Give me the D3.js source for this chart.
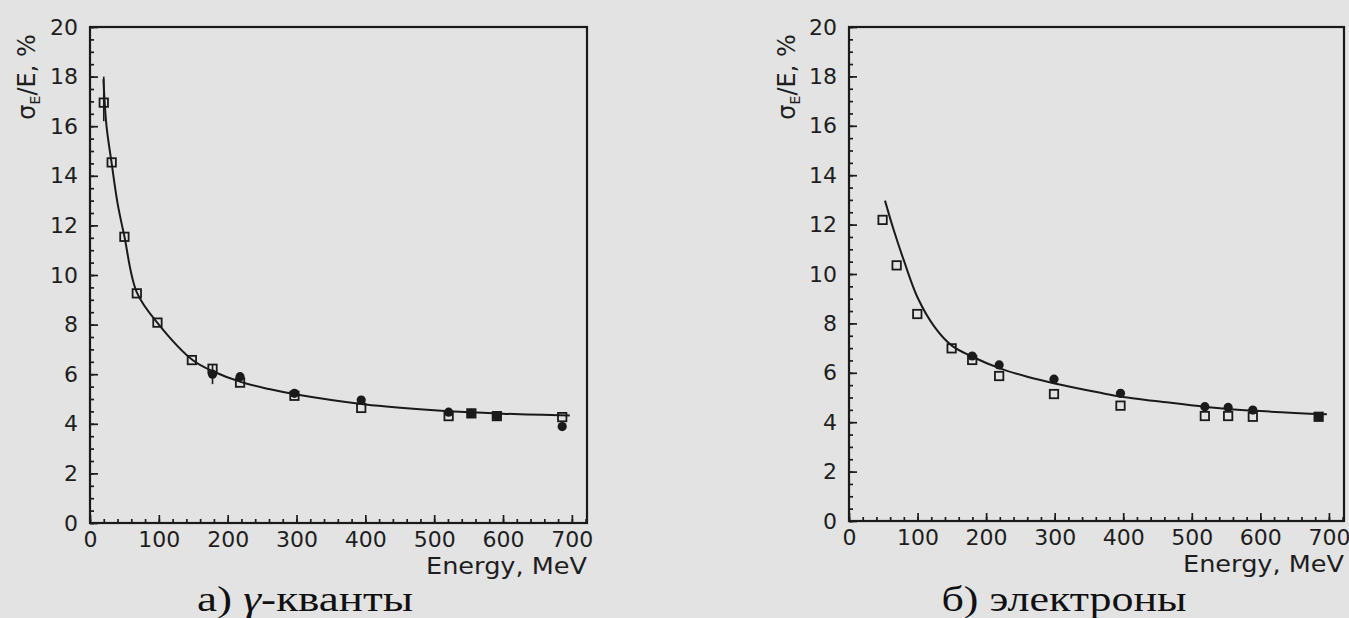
<!DOCTYPE html>
<html>
<head>
<meta charset="utf-8">
<script src="https://cdn.jsdelivr.net/npm/d3@7"></script>
<style>
    body { margin: 0; background: #e3e3e3; }
    svg { display: block; }
    .tick text { font-family: "DejaVu Sans", sans-serif; font-size: 22px; fill: #1e1e1e; }
    .tick line { stroke: #1c1c1c; stroke-width: 1.7; }
</style>
</head>
<body>
<script>
// tick labels
const xTicks = [0, 100, 200, 300, 400, 500, 600, 700];
const yTicks = [0, 2, 4, 6, 8, 10, 12, 14, 16, 18, 20];

// а) gamma quanta: open squares, filled circles, fitted curve
const gammaSqE = [20, 31.5, 50, 68, 98, 148, 178, 218, 297, 394, 521, 554, 591, 686];
const gammaSqV = [16.95, 14.54, 11.54, 9.26, 8.08, 6.57, 6.22, 5.66, 5.13, 4.64, 4.31, 4.42, 4.31, 4.27];
const gammaDotE = [178, 218, 297, 394, 521, 554, 591, 686];
const gammaDotV = [6.0, 5.9, 5.23, 4.96, 4.47, 4.42, 4.31, 3.89];
const gammaFitE = [19.5, 24, 31.5, 40, 50, 68, 100, 150, 180, 220, 260, 300, 400, 500, 600, 697];
const gammaFitV = [17.9, 16.0, 14.5, 12.9, 11.55, 9.3, 8.0, 6.55, 6.1, 5.68, 5.4, 5.18, 4.78, 4.55, 4.41, 4.33];

// б) electrons
const elSqE = [49, 69.5, 99.6, 149.7, 179.7, 219, 299, 396, 519, 553, 589, 685];
const elSqV = [12.19, 10.35, 8.38, 6.99, 6.52, 5.87, 5.14, 4.67, 4.25, 4.25, 4.22, 4.22];
const elDotE = [179.7, 219, 299, 396, 519, 553, 589, 685];
const elDotV = [6.68, 6.32, 5.74, 5.17, 4.63, 4.60, 4.49, 4.22];
const elFitE = [52.5, 65, 80, 100, 125, 150, 180, 220, 260, 300, 365, 400, 450, 520, 600, 697];
const elFitV = [12.97, 11.8, 10.55, 9.05, 7.85, 7.1, 6.65, 6.18, 5.84, 5.57, 5.2, 5.02, 4.85, 4.62, 4.45, 4.32];

const ink = "#1a1a1a";
const w = 1349, h = 618;

const svg = d3.select("body").append("svg")
    .attr("width", w)
    .attr("height", h);

function zip(a, b) { return a.map((d, i) => [d, b[i]]); }

function drawPanel(cfg) {
    const x = d3.scaleLinear().domain([0, 722]).range([cfg.left, cfg.right]);
    const y = d3.scaleLinear().domain([0, 20]).range([cfg.bottom, cfg.top]);
    const g = svg.append("g");

    // minor ticks
    g.append("g")
        .attr("transform", "translate(0," + cfg.bottom + ")")
        .call(d3.axisBottom(x).tickValues(d3.range(0, 721, 20)).tickSize(-4).tickFormat(""))
        .call(s => s.select(".domain").remove());
    g.append("g")
        .attr("transform", "translate(" + cfg.left + ",0)")
        .call(d3.axisLeft(y).tickValues(d3.range(0, 20.01, 0.5)).tickSize(-4).tickFormat(""))
        .call(s => s.select(".domain").remove());

    // major ticks with labels
    g.append("g")
        .attr("transform", "translate(0," + cfg.bottom + ")")
        .call(d3.axisBottom(x).tickValues(xTicks).tickSizeInner(-8).tickSizeOuter(0).tickPadding(8))
        .call(s => s.select(".domain").remove());
    g.append("g")
        .attr("transform", "translate(" + cfg.left + ",0)")
        .call(d3.axisLeft(y).tickValues(yTicks).tickSizeInner(-8).tickSizeOuter(0).tickPadding(12))
        .call(s => s.select(".domain").remove());

    // frame
    g.append("rect")
        .attr("x", cfg.left).attr("y", cfg.top)
        .attr("width", cfg.right - cfg.left)
        .attr("height", cfg.bottom - cfg.top)
        .attr("fill", "none")
        .attr("stroke", ink)
        .attr("stroke-width", 2.2);

    // fitted curve
    const line = d3.line()
        .x(d => x(d[0]))
        .y(d => y(d[1]))
        .curve(d3.curveCatmullRom.alpha(0.5));
    g.append("path")
        .datum(zip(cfg.fitE, cfg.fitV))
        .attr("d", line)
        .attr("fill", "none")
        .attr("stroke", ink)
        .attr("stroke-width", 2);

    // error bars
    g.selectAll(".err")
        .data(cfg.errors)
        .enter()
        .append("line")
        .attr("x1", d => x(d[0])).attr("x2", d => x(d[0]))
        .attr("y1", d => y(d[1])).attr("y2", d => y(d[2]))
        .attr("stroke", ink)
        .attr("stroke-width", 1.6);

    // filled circles
    g.selectAll(".dot")
        .data(zip(cfg.dotE, cfg.dotV))
        .enter()
        .append("circle")
        .attr("cx", d => x(d[0]))
        .attr("cy", d => y(d[1]))
        .attr("r", 4.6)
        .attr("fill", ink);

    // open squares
    g.selectAll(".sq")
        .data(zip(cfg.sqE, cfg.sqV))
        .enter()
        .append("rect")
        .attr("x", d => x(d[0]) - 4.2)
        .attr("y", d => y(d[1]) - 4.2)
        .attr("width", 8.4)
        .attr("height", 8.4)
        .attr("fill", "none")
        .attr("stroke", ink)
        .attr("stroke-width", 1.8);

    // axis titles
    g.append("text")
        .attr("x", cfg.right)
        .attr("y", cfg.bottom + 51)
        .attr("text-anchor", "end")
        .attr("textLength", 161)
        .attr("lengthAdjust", "spacingAndGlyphs")
        .attr("font-family", "DejaVu Sans, sans-serif")
        .attr("font-size", 23)
        .attr("fill", "#1e1e1e")
        .text("Energy, MeV");

    const yl = g.append("text")
        .attr("transform", "translate(" + cfg.ylabX + ",77) rotate(-90)")
        .attr("text-anchor", "middle")
        .attr("font-family", "DejaVu Sans, sans-serif")
        .attr("font-size", 24)
        .attr("fill", "#1e1e1e");
    yl.append("tspan").text("σ");
    yl.append("tspan").attr("font-size", 14).attr("dy", 5).text("E");
    yl.append("tspan").attr("dy", -5).text("/E, %");

    // caption
    const cap = svg.append("text")
        .attr("x", cfg.capX)
        .attr("y", 611)
        .attr("text-anchor", "middle")
        .attr("textLength", cfg.capW)
        .attr("lengthAdjust", "spacingAndGlyphs")
        .attr("font-family", "Liberation Serif, serif")
        .attr("font-size", 36)
        .attr("fill", "#111");
    cfg.caption.forEach(part => {
        cap.append("tspan")
            .attr("font-style", part[1] ? "italic" : "normal")
            .text(part[0]);
    });
}

drawPanel({
    left: 90, right: 587, top: 27, bottom: 523,
    sqE: gammaSqE, sqV: gammaSqV, dotE: gammaDotE, dotV: gammaDotV,
    fitE: gammaFitE, fitV: gammaFitV,
    errors: [[20, 16.2, 18.0], [178, 5.6, 6.4]],
    ylabX: 35, capX: 305, capW: 216,
    caption: [["а) ", false], ["γ", true], ["-кванты", false]]
});

drawPanel({
    left: 849, right: 1344, top: 27, bottom: 521,
    sqE: elSqE, sqV: elSqV, dotE: elDotE, dotV: elDotV,
    fitE: elFitE, fitV: elFitV,
    errors: [],
    ylabX: 795, capX: 1064, capW: 245,
    caption: [["б) электроны", false]]
});
</script>
</body>
</html>
